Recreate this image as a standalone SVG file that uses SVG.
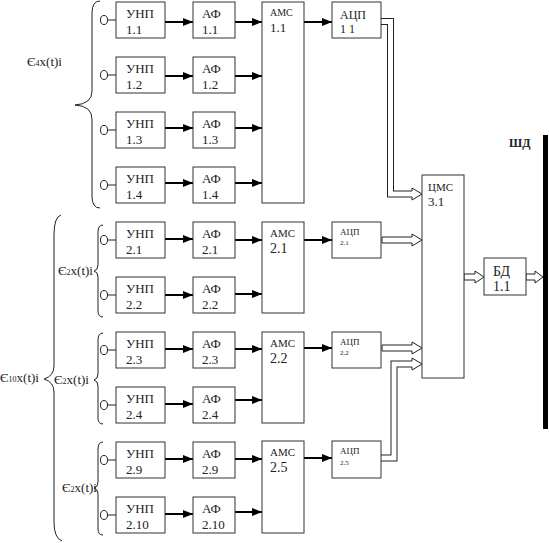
<svg xmlns="http://www.w3.org/2000/svg" width="549" height="543" viewBox="0 0 549 543">
<defs>
<marker id="ah" markerWidth="10" markerHeight="8" refX="10" refY="4" orient="auto" markerUnits="userSpaceOnUse">
<path d="M0,0 L10,4 L0,8 Z" fill="#000"/>
</marker>
<style>
.box{fill:#fff;stroke:#333;stroke-width:1}
.t{font-family:"Liberation Serif",serif;fill:#222}
.a{stroke:#000;stroke-width:2;fill:none;marker-end:url(#ah)}
.br{fill:none;stroke:#222;stroke-width:1}
.ho{fill:#fff;stroke:#222;stroke-width:1}
.pb{fill:none;stroke:#222;stroke-width:7}
.pw{fill:none;stroke:#fff;stroke-width:5}
.c{fill:#fff;stroke:#222;stroke-width:1}
</style>
</defs>
<rect width="549" height="543" fill="#fff"/>

<g id="braces">
<path class="br" d="M100,1 Q92,1 92,13 L92,91 Q92,104 75,105 Q92,106 92,119 L92,196 Q92,208 100,208"/>
<path class="br" d="M61,215 Q54,217 54,235 L54,366 Q54,376 44,379 Q54,382 54,392 L54,522 Q54,538 62,541"/>
<path class="br" d="M103,225 Q98,225 98,232 L98,265 Q98,270 94,271 Q98,272 98,277 L98,311 Q98,317 103,317"/>
<path class="br" d="M103,333 Q98,333 98,340 L98,374 Q98,379 94,380 Q98,381 98,386 L98,418 Q98,424 103,424"/>
<path class="br" d="M103,442 Q98,442 98,449 L98,482 Q98,487 94,488 Q98,489 98,494 L98,529 Q98,535 103,535"/>
</g>

<g id="labels">
<text class="t" x="27" y="66" font-size="13">Є<tspan font-size="8">4</tspan>x(t)i</text>
<text class="t" x="58" y="275" font-size="13">Є<tspan font-size="8">2</tspan>x(t)i</text>
<text class="t" x="0" y="382" font-size="13">Є<tspan font-size="8">10</tspan>x(t)i</text>
<text class="t" x="54" y="384" font-size="13">Є<tspan font-size="8">2</tspan>x(t)i</text>
<text class="t" x="62" y="492" font-size="13">Є<tspan font-size="8">2</tspan>x(t)i</text>
<text class="t" x="509" y="147" font-size="12" font-weight="bold">ШД</text>
</g>

<g id="connectors">
<!-- inputs -->
<g stroke="#222" stroke-width="1">
<line x1="108" y1="20" x2="116" y2="20"/><line x1="108" y1="75" x2="116" y2="75"/>
<line x1="108" y1="130" x2="116" y2="130"/><line x1="108" y1="185" x2="116" y2="185"/>
<line x1="108" y1="240" x2="116" y2="240"/><line x1="108" y1="295" x2="116" y2="295"/>
<line x1="108" y1="350" x2="116" y2="350"/><line x1="108" y1="405" x2="116" y2="405"/>
<line x1="108" y1="460" x2="116" y2="460"/><line x1="108" y1="515" x2="116" y2="515"/>
</g>
<g>
<ellipse class="c" cx="104" cy="20" rx="3.5" ry="4.5"/><ellipse class="c" cx="104" cy="75" rx="3.5" ry="4.5"/>
<ellipse class="c" cx="104" cy="130" rx="3.5" ry="4.5"/><ellipse class="c" cx="104" cy="185" rx="3.5" ry="4.5"/>
<ellipse class="c" cx="104" cy="240" rx="3.5" ry="4.5"/><ellipse class="c" cx="104" cy="295" rx="3.5" ry="4.5"/>
<ellipse class="c" cx="104" cy="350" rx="3.5" ry="4.5"/><ellipse class="c" cx="104" cy="405" rx="3.5" ry="4.5"/>
<ellipse class="c" cx="104" cy="460" rx="3.5" ry="4.5"/><ellipse class="c" cx="104" cy="515" rx="3.5" ry="4.5"/>
</g>
<!-- УНП -> АФ -->
<line class="a" x1="165" y1="22" x2="193" y2="22"/>
<line class="a" x1="165" y1="76" x2="193" y2="76"/>
<line class="a" x1="165" y1="128" x2="193" y2="128"/>
<line class="a" x1="165" y1="183" x2="193" y2="183"/>
<line class="a" x1="165" y1="239" x2="193" y2="239"/>
<line class="a" x1="165" y1="295" x2="193" y2="295"/>
<line class="a" x1="165" y1="349" x2="193" y2="349"/>
<line class="a" x1="165" y1="404" x2="193" y2="404"/>
<line class="a" x1="165" y1="459" x2="193" y2="459"/>
<line class="a" x1="165" y1="514" x2="193" y2="514"/>
<!-- АФ -> AMC -->
<line class="a" x1="235" y1="22" x2="262" y2="22"/>
<line class="a" x1="235" y1="76" x2="262" y2="76"/>
<line class="a" x1="235" y1="128" x2="262" y2="128"/>
<line class="a" x1="235" y1="183" x2="262" y2="183"/>
<line class="a" x1="235" y1="240" x2="262" y2="240"/>
<line class="a" x1="235" y1="294" x2="262" y2="294"/>
<line class="a" x1="235" y1="349" x2="262" y2="349"/>
<line class="a" x1="235" y1="400" x2="262" y2="400"/>
<line class="a" x1="235" y1="459" x2="262" y2="459"/>
<line class="a" x1="235" y1="512" x2="262" y2="512"/>
<!-- AMC -> АЦП -->
<line class="a" x1="304" y1="22" x2="332" y2="22"/>
<line class="a" x1="304" y1="240" x2="332" y2="240"/>
<line class="a" x1="304" y1="348" x2="332" y2="348"/>
<line class="a" x1="304" y1="458" x2="332" y2="458"/>
<!-- pipes -->
<polyline class="pb" points="381,21.5 390.5,21.5 390.5,194 412,194"/>
<polyline class="pw" points="381,21.5 390.5,21.5 390.5,194 412,194"/>
<path class="ho" d="M412,191 L412,188 L422,194 L412,200 L412,197"/>
<polyline class="pb" points="381,458 394,458 394,364 412,364"/>
<polyline class="pw" points="381,458 394,458 394,364 412,364"/>
<path class="ho" d="M412,361 L412,358 L422,364 L412,370 L412,367"/>
<!-- hollow arrows -->
<path class="ho" d="M382,237 L412,237 L412,234 L422,240 L412,246 L412,243 L382,243 Z"/>
<path class="ho" d="M382,345 L412,345 L412,342 L422,348 L412,354 L412,351 L382,351 Z"/>
<path class="ho" d="M464,274 L475,274 L475,271 L484,277 L475,283 L475,280 L464,280 Z"/>
<path class="ho" d="M526,274 L535,274 L535,271 L543,277 L535,283 L535,280 L526,280 Z"/>
</g>

<g id="bus"><rect x="543" y="135" width="5" height="294" fill="#000"/></g>

<g id="unp1_1"><rect class="box" x="116" y="2" width="49" height="36"/><text class="t" x="126" y="18" font-size="13">УНП</text><text class="t" x="126" y="34" font-size="13">1.1</text></g>
<g id="unp1_2"><rect class="box" x="116" y="57" width="49" height="36"/><text class="t" x="126" y="73" font-size="13">УНП</text><text class="t" x="126" y="89" font-size="13">1.2</text></g>
<g id="unp1_3"><rect class="box" x="116" y="112" width="49" height="36"/><text class="t" x="126" y="128" font-size="13">УНП</text><text class="t" x="126" y="144" font-size="13">1.3</text></g>
<g id="unp1_4"><rect class="box" x="116" y="167" width="49" height="36"/><text class="t" x="126" y="183" font-size="13">УНП</text><text class="t" x="126" y="199" font-size="13">1.4</text></g>
<g id="unp2_1"><rect class="box" x="116" y="222" width="49" height="36"/><text class="t" x="126" y="238" font-size="13">УНП</text><text class="t" x="126" y="254" font-size="13">2.1</text></g>
<g id="unp2_2"><rect class="box" x="116" y="277" width="49" height="36"/><text class="t" x="126" y="293" font-size="13">УНП</text><text class="t" x="126" y="309" font-size="13">2.2</text></g>
<g id="unp2_3"><rect class="box" x="116" y="332" width="49" height="36"/><text class="t" x="126" y="348" font-size="13">УНП</text><text class="t" x="126" y="364" font-size="13">2.3</text></g>
<g id="unp2_4"><rect class="box" x="116" y="387" width="49" height="36"/><text class="t" x="126" y="403" font-size="13">УНП</text><text class="t" x="126" y="419" font-size="13">2.4</text></g>
<g id="unp2_9"><rect class="box" x="116" y="442" width="49" height="36"/><text class="t" x="126" y="458" font-size="13">УНП</text><text class="t" x="126" y="474" font-size="13">2.9</text></g>
<g id="unp2_10"><rect class="box" x="116" y="497" width="49" height="36"/><text class="t" x="126" y="513" font-size="13">УНП</text><text class="t" x="126" y="529" font-size="13">2.10</text></g>

<g id="af1_1"><rect class="box" x="193" y="2" width="42" height="36"/><text class="t" x="202" y="18" font-size="13">АФ</text><text class="t" x="202" y="34" font-size="13">1.1</text></g>
<g id="af1_2"><rect class="box" x="193" y="57" width="42" height="36"/><text class="t" x="202" y="73" font-size="13">АФ</text><text class="t" x="202" y="89" font-size="13">1.2</text></g>
<g id="af1_3"><rect class="box" x="193" y="112" width="42" height="36"/><text class="t" x="202" y="128" font-size="13">АФ</text><text class="t" x="202" y="144" font-size="13">1.3</text></g>
<g id="af1_4"><rect class="box" x="193" y="167" width="42" height="36"/><text class="t" x="202" y="183" font-size="13">АФ</text><text class="t" x="202" y="199" font-size="13">1.4</text></g>
<g id="af2_1"><rect class="box" x="193" y="222" width="42" height="36"/><text class="t" x="202" y="238" font-size="13">АФ</text><text class="t" x="202" y="254" font-size="13">2.1</text></g>
<g id="af2_2"><rect class="box" x="193" y="277" width="42" height="36"/><text class="t" x="202" y="293" font-size="13">АФ</text><text class="t" x="202" y="309" font-size="13">2.2</text></g>
<g id="af2_3"><rect class="box" x="193" y="332" width="42" height="36"/><text class="t" x="202" y="348" font-size="13">АФ</text><text class="t" x="202" y="364" font-size="13">2.3</text></g>
<g id="af2_4"><rect class="box" x="193" y="387" width="42" height="36"/><text class="t" x="202" y="403" font-size="13">АФ</text><text class="t" x="202" y="419" font-size="13">2.4</text></g>
<g id="af2_9"><rect class="box" x="193" y="442" width="42" height="36"/><text class="t" x="202" y="458" font-size="13">АФ</text><text class="t" x="202" y="474" font-size="13">2.9</text></g>
<g id="af2_10"><rect class="box" x="193" y="497" width="42" height="36"/><text class="t" x="202" y="513" font-size="13">АФ</text><text class="t" x="202" y="529" font-size="13">2.10</text></g>

<g id="amc1_1"><rect class="box" x="262" y="2" width="42" height="201"/><text class="t" x="270" y="16" font-size="10">АМС</text><text class="t" x="270" y="32" font-size="13">1.1</text></g>
<g id="amc2_1"><rect class="box" x="262" y="222" width="42" height="91"/><text class="t" x="270" y="237" font-size="11">АМС</text><text class="t" x="270" y="253" font-size="14">2.1</text></g>
<g id="amc2_2"><rect class="box" x="262" y="332" width="42" height="91"/><text class="t" x="270" y="347" font-size="11">АМС</text><text class="t" x="270" y="363" font-size="14">2.2</text></g>
<g id="amc2_5"><rect class="box" x="262" y="441" width="42" height="92"/><text class="t" x="270" y="456" font-size="11">АМС</text><text class="t" x="270" y="472" font-size="14">2.5</text></g>

<g id="adc1_1"><rect class="box" x="332" y="2" width="49" height="36"/><text class="t" x="340" y="19" font-size="12">АЦП</text><text class="t" x="340" y="33" font-size="12">1 1</text></g>
<g id="adc2_1"><rect class="box" x="332" y="222" width="49" height="36"/><text class="t" x="340" y="235" font-size="9">АЦП</text><text class="t" x="340" y="245" font-size="7">2.1</text></g>
<g id="adc2_2"><rect class="box" x="332" y="332" width="49" height="36"/><text class="t" x="340" y="345" font-size="9">АЦП</text><text class="t" x="340" y="355" font-size="7">2.2</text></g>
<g id="adc2_5"><rect class="box" x="332" y="441" width="49" height="37"/><text class="t" x="340" y="454" font-size="9">АЦП</text><text class="t" x="340" y="465" font-size="7">2.5</text></g>

<g id="cms3_1"><rect class="box" x="422" y="175" width="42" height="203"/><text class="t" x="428" y="191" font-size="11">ЦМС</text><text class="t" x="428" y="206" font-size="13">3.1</text></g>
<g id="bd1_1"><rect class="box" x="484" y="258" width="42" height="37"/><text class="t" x="493" y="276" font-size="14">БД</text><text class="t" x="493" y="291" font-size="14">1.1</text></g>
</svg>
